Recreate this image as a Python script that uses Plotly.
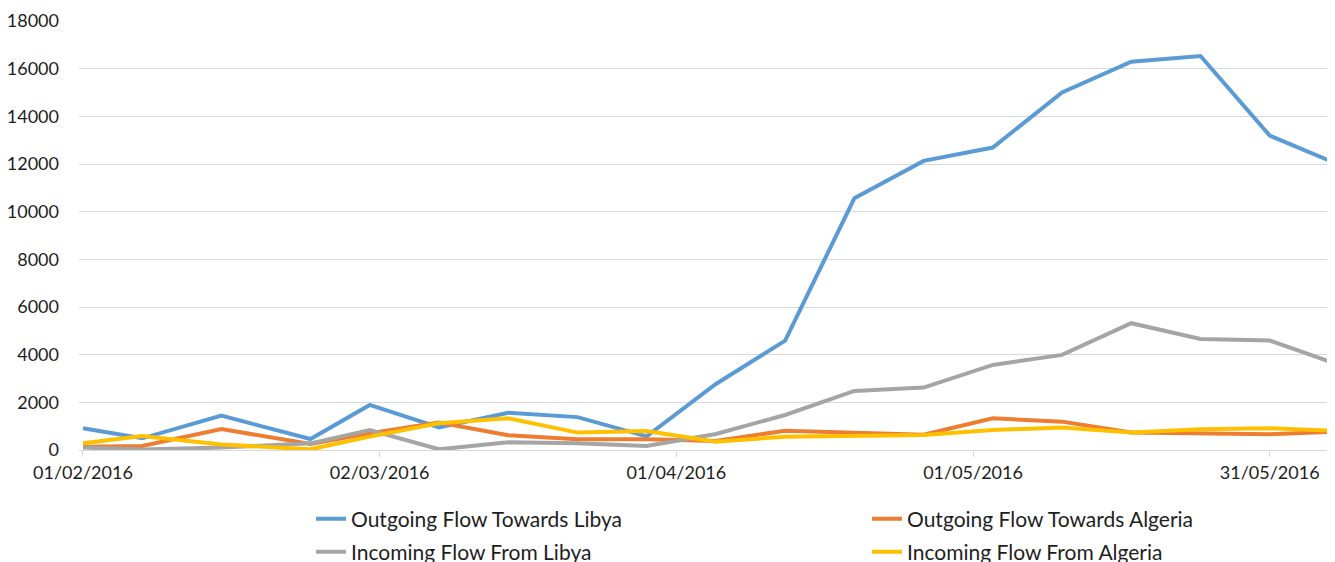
import plotly.graph_objects as go

dates = ["2016-02-01", "2016-02-07", "2016-02-15", "2016-02-24", "2016-03-01",
         "2016-03-08", "2016-03-15", "2016-03-22", "2016-03-29", "2016-04-05",
         "2016-04-12", "2016-04-19", "2016-04-26", "2016-05-03", "2016-05-10",
         "2016-05-17", "2016-05-24", "2016-05-31", "2016-06-07"]

out_libya = [910, 490, 1440, 460, 1890, 950, 1565, 1380, 570, 2770,
             4590, 10560, 12130, 12690, 15000, 16290, 16530, 13190, 11970]
out_algeria = [140, 170, 880, 250, 700, 1150, 620, 450, 450, 380,
               810, 740, 640, 1330, 1190, 730, 700, 660, 775]
in_libya = [100, 20, 100, 280, 840, 30, 320, 280, 170, 670,
            1470, 2480, 2620, 3570, 3990, 5320, 4660, 4590, 3580]
in_algeria = [280, 590, 230, 30, 560, 1120, 1330, 730, 800, 350,
              560, 600, 630, 840, 940, 730, 870, 910, 805]

names = ["Outgoing Flow Towards Libya", "Outgoing Flow Towards Algeria",
         "Incoming Flow From Libya", "Incoming Flow From Algeria"]
colors = ["#5B9BD5", "#ED7D31", "#A5A5A5", "#FFC000"]
series = [out_libya, out_algeria, in_libya, in_algeria]
legends = ["legend", "legend2", "legend3", "legend4"]

tick_dates = ["2016-02-01", "2016-03-02", "2016-04-01", "2016-05-01", "2016-05-31"]
tick_text = ["01/02/2016", "02/03/2016", "01/04/2016", "01/05/2016", "31/05/2016"]
y_ticks = list(range(0, 18001, 2000))

FONT = "Lato"
TXT = "#1e1e1e"

fig = go.Figure()
for n, c, s, lg in zip(names, colors, series, legends):
    fig.add_trace(go.Scatter(x=dates, y=s, name=n, mode="lines",
                             line=dict(color=c, width=4), legend=lg))

# page has an 8px body margin; plot area spans page x 79..1335, y 21..450
PL, PT, PW, PH = 71, 13, 1256, 429


def lx(px):
    return (px - 8 - PL) / PW


def ly(py):
    return (PT + PH + 8 - py) / PH


leg_common = dict(orientation="h", xanchor="left", yanchor="middle",
                  font=dict(family=FONT, size=21, color=TXT),
                  bgcolor="rgba(0,0,0,0)", borderwidth=0)

fig.update_layout(
    width=1335, height=562,
    margin=dict(l=PL, r=1335 - PL - PW, t=PT, b=562 - PT - PH, autoexpand=False),
    paper_bgcolor="white", plot_bgcolor="white",
    font=dict(family=FONT, size=18, color=TXT),
    showlegend=True,
    legend=dict(x=lx(311), y=ly(519), **leg_common),
    legend2=dict(x=lx(867), y=ly(519), **leg_common),
    legend3=dict(x=lx(311), y=ly(552), **leg_common),
    legend4=dict(x=lx(867), y=ly(552), **leg_common),
    xaxis=dict(type="date", range=["2016-01-31 14:24", "2016-06-06 14:24"],
               tickvals=tick_dates, ticktext=tick_text,
               showgrid=False, showline=True, linecolor="#D9D9D9", linewidth=1,
               ticks="outside", ticklen=6, tickcolor="#D9D9D9", tickwidth=1,
               tickfont=dict(family=FONT, size=18, color=TXT), zeroline=False),
    yaxis=dict(range=[0, 18000], tickvals=y_ticks,
               ticktext=[str(v) for v in y_ticks],
               showgrid=True, gridcolor="#D9D9D9", gridwidth=1,
               zeroline=False, showline=False, ticks="",
               ticklabelstandoff=19,
               tickfont=dict(family=FONT, size=18, color=TXT)),
)

fig.write_html("out.html")
